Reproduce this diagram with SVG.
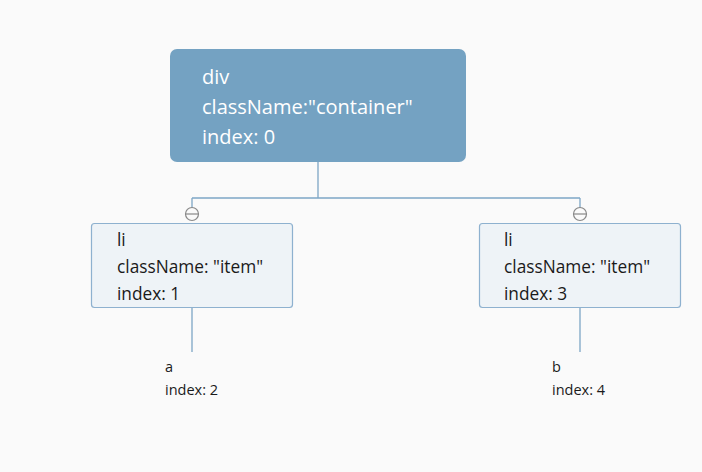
<svg xmlns="http://www.w3.org/2000/svg" width="702" height="472" viewBox="0 0 702 472">
<style>
.root{fill:#74a2c2}
.li{fill:#eef3f7;stroke:#8eb1cf;stroke-width:1.2}
.tw{font-family:"Open Sans","Noto Sans",sans-serif;font-size:20px;fill:#ffffff}
.td{font-family:"Open Sans","Noto Sans",sans-serif;font-size:17.3px;fill:#1a1a1a}
.ts{font-family:"Open Sans","Noto Sans",sans-serif;font-size:14.5px;fill:#1a1a1a}
.ln{fill:none;stroke:#7ea7c6;stroke-width:1.3}
.col{fill:#fafafa;stroke:#888888;stroke-width:1.2}
</style>
<rect width="702" height="472" fill="#fafafa"/>
<g id="connectors">
<path class="ln" d="M318 162V198M192 198H580M192 198V208M580 198V208"/>
<path class="ln" d="M192 308V352M580 308V352"/>
</g>
<g id="div">
<rect class="root" x="170" y="49" width="296" height="113" rx="7"/>
<text class="tw" x="202" y="84">div</text>
<text class="tw" x="202" y="114">className:"container"</text>
<text class="tw" x="202" y="144">index: 0</text>
</g>
<g id="li1">
<rect class="li" x="91.5" y="223.5" width="201" height="84" rx="3"/>
<text class="td" x="117" y="246">li</text>
<text class="td" x="117" y="273">className: "item"</text>
<text class="td" x="117" y="300">index: 1</text>
<g id="collapse1"><circle class="col" cx="192" cy="214" r="6.5"/><path d="M186 214H198" stroke="#888" stroke-width="1.2"/></g>
</g>
<g id="li2">
<rect class="li" x="479.5" y="223.5" width="201" height="84" rx="3"/>
<text class="td" x="504" y="246">li</text>
<text class="td" x="504" y="273">className: "item"</text>
<text class="td" x="504" y="300">index: 3</text>
<g id="collapse2"><circle class="col" cx="580" cy="214" r="6.5"/><path d="M574 214H586" stroke="#888" stroke-width="1.2"/></g>
</g>
<g id="a">
<text class="ts" x="165" y="372">a</text>
<text class="ts" x="165" y="395">index: 2</text>
</g>
<g id="b">
<text class="ts" x="552" y="372">b</text>
<text class="ts" x="552" y="395">index: 4</text>
</g>
</svg>
